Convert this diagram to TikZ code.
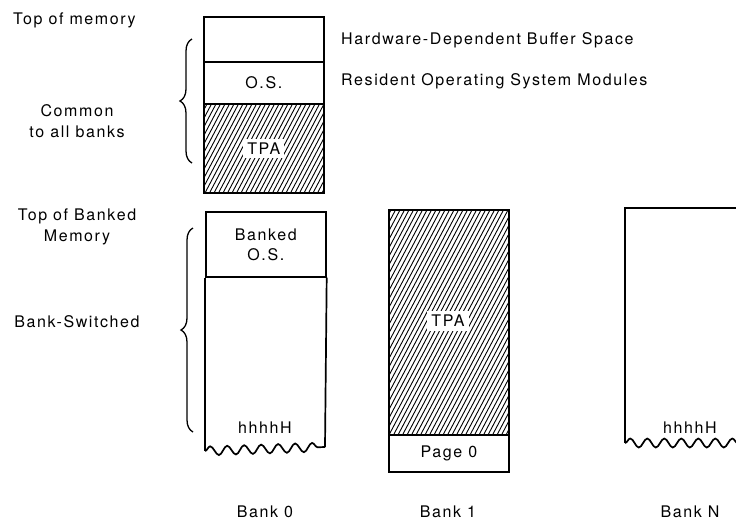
\documentclass[tikz,border=0pt]{standalone}
\usepackage{fontspec}
\setmainfont[LetterSpace=10]{TeX Gyre Heros}
\usetikzlibrary{positioning,decorations.pathreplacing,decorations.pathmorphing}

\begin{document}
\begin{tikzpicture}[x=1pt,y=-1pt,
  seg/.style={draw,line width=1.7pt,minimum width=120pt,inner sep=0pt,anchor=north west,
    align=center,font=\fontsize{16}{20}\selectfont},
  lab/.style={font=\fontsize{16}{21}\selectfont,inner sep=1pt,align=center},
  tag/.style={lab,fill=white,inner sep=4pt},
  hatch/.style={line width=0.9pt},
  brc/.style={decorate,decoration={brace,amplitude=12pt},line width=1.3pt},
  edge/.style={line width=1.7pt},
  wave/.style={decorate,decoration={snake,segment length=17pt,amplitude=4.5pt},line width=1.7pt}]
\useasboundingbox (0,0) rectangle (736,523);

% common memory
\node[lab,anchor=west] (topm) at (12,20) {Top of memory};
\node[lab] (common) at (77,121) {Common\\to all banks};
\node[seg,minimum height=45pt] (buf) at (203,16) {};
\node[seg,minimum height=42pt] (os) at (203,61) {O.S.};
\node[seg,minimum height=89pt] (tpa) at (203,103) {};
\begin{scope}
  \clip (tpa.south west) rectangle (tpa.north east);
  \foreach \i in {0,...,38}
    \draw[hatch] (156+\i*4.5,192) -- ++(47,-89);
\end{scope}
\node[seg,minimum height=89pt] at (203,103) {};
\node[tag] (tpat) at (tpa) {TPA};
\node[lab,anchor=west] (bufl) at (340,40) {Hardware-Dependent Buffer Space};
\node[lab,anchor=west] (osl) at (340,81) {Resident Operating System Modules};
\coordinate (ca) at (192,163);
\coordinate (cb) at (192,39);
\draw[brc] (ca) -- (cb);

% bank 0
\node[lab] (topb) at (77,227) {Top of Banked\\Memory};
\node[lab] (bsw) at (77,322) {Bank-Switched};
\node[seg,minimum height=65pt] (bos) at (205,211) {Banked\\O.S.};
\coordinate (w0a) at (205,451);
\coordinate (w0b) at (325,447);
\draw[edge] (bos.south west) -- (w0a);
\draw[edge] (bos.south east) -- (w0b);
\draw[wave] (w0a) -- (w0b);
\node[lab] (h0) at (265,428) {hhhhH};
\coordinate (da) at (193,432);
\coordinate (db) at (193,228);
\draw[brc] (da) -- (db);
\node[lab] (b0) at (265,512) {Bank 0};

% bank 1
\node[seg,minimum height=225pt] (tpa1) at (388,209) {};
\begin{scope}
  \clip (tpa1.south west) rectangle (tpa1.north east);
  \foreach \i in {0,...,55}
    \draw[hatch] (268+\i*4.5,434) -- ++(119,-225);
\end{scope}
\node[seg,minimum height=225pt] at (388,209) {};
\node[tag] (tpa1t) at (448,321) {TPA};
\node[seg,minimum height=37pt] (pg0) at (388,434) {Page 0};
\node[lab] (b1) at (448,512) {Bank 1};

% bank N
\coordinate (na) at (625,443);
\coordinate (nb) at (625,208);
\coordinate (nc) at (740,208);
\coordinate (nd) at (740,443);
\draw[edge] (na) -- (nb) -- (nc);
\draw[wave] (na) -- (nd);
\node[lab] (hn) at (690,428) {hhhhH};
\node[lab] (bn) at (690,512) {Bank N};
\end{tikzpicture}
\end{document}
